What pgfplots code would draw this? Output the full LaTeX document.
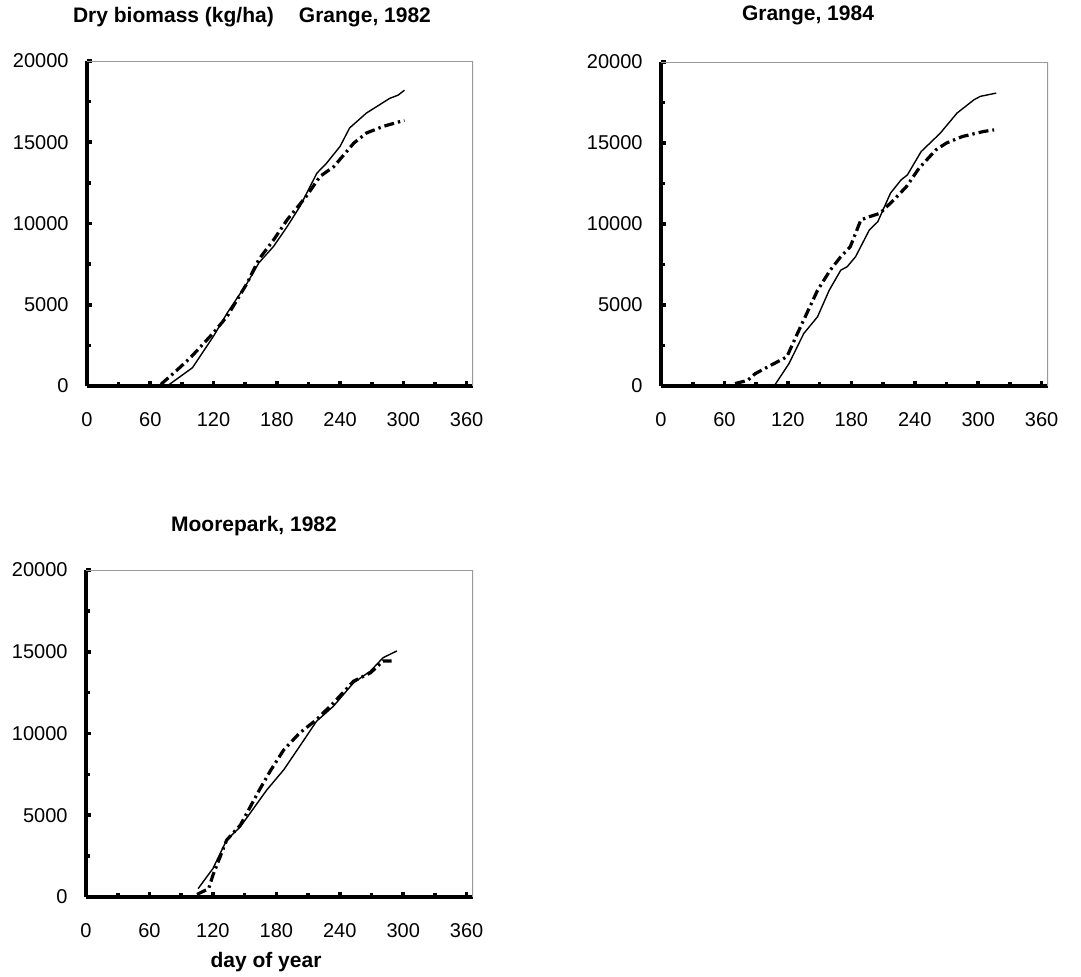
\documentclass[border=0pt]{standalone}
\usepackage{fontspec}
\setmainfont{Liberation Sans}
\usepackage{pgfplots}
\pgfplotsset{compat=1.18}
\pgfplotsset{
  myax/.style={
    scale only axis,
    xmin=0, xmax=366, ymin=0, ymax=20000,
    xtick={0,60,...,360}, ytick={0,5000,...,20000},
    minor x tick num=1, minor y tick num=1,
    axis x line=bottom, axis y line=left,
    axis line style={black, line width=2pt, -},
    tick align=inside,
    major tick length=2.5pt, minor tick length=2pt,
    tick style={black, line width=1.8pt},
    scaled y ticks=false,
    /pgf/number format/set thousands separator={},
    /pgf/number format/assume math mode=true,
    ticklabel style={font=\fontsize{10}{12}\selectfont},
    yticklabel style={anchor=east, inner sep=0pt, xshift=-9pt},
    xticklabel style={anchor=north, inner sep=0pt, yshift=-13pt},
  },
  obs/.style={black, line width=0.7pt},
  sim/.style={black, line width=1.6pt, dash pattern=on 5pt off 2pt on 1.2pt off 2pt},
}
\newcommand{\graybox}{\draw[gray!80, line width=0.7pt] (rel axis cs:0,1) -- (rel axis cs:1,1) -- (rel axis cs:1,0);}
\begin{document}
\begin{tikzpicture}
\path[use as bounding box] (0pt,0pt) rectangle (540.5pt,-488pt);

% Plot 1: Grange 1982
\begin{axis}[myax, at={(43.5pt,-193pt)}, anchor=south west, width=193pt, height=162.5pt]
\addplot[obs] coordinates {(76,0) (100,1127) (120,3070) (133,4500) (152,6350) (163,7580) (177,8600) (190,9830) (202,11060) (218,13100) (227,13700) (240,14750) (249,15880) (265,16800) (287,17700) (295,17900) (301,18200)};
\addplot[sim] coordinates {(70,100) (84,900) (98,1740) (120,3280) (133,4300) (152,6350) (163,7800) (177,9000) (190,10250) (208,11680) (221,12900) (234,13500) (253,14950) (265,15570) (281,15980) (301,16350)};
\graybox
\end{axis}

% Plot 2: Grange 1984
\begin{axis}[myax, at={(330.5pt,-193pt)}, anchor=south west, width=193.5pt, height=162pt]
\addplot[obs] coordinates {(100,0) (107,0) (121,1380) (135,3240) (148,4270) (159,5900) (170,7150) (176,7360) (184,7980) (197,9630) (205,10140) (217,11900) (227,12720) (233,13030) (246,14470) (264,15600) (280,16850) (296,17670) (302,17880) (317,18080)};
\addplot[sim] coordinates {(70,150) (82,350) (89,760) (101,1180) (119,1800) (129,3240) (148,5900) (160,7150) (170,7980) (179,8600) (189,10250) (197,10450) (207,10660) (220,11480) (232,12300) (244,13440) (260,14580) (270,15000) (285,15400) (305,15710) (315,15810)};
\graybox
\end{axis}

% Plot 3: Moorepark 1982
\begin{axis}[myax, at={(43pt,-448.5pt)}, anchor=south west, width=193.5pt, height=163.5pt]
\addplot[obs] coordinates {(106,510) (120,1740) (133,3480) (146,4300) (171,6550) (187,7780) (202,9210) (218,10750) (234,11670) (253,13100) (269,13820) (281,14640) (294,15050)};
\addplot[sim] coordinates {(105,160) (116,510) (120,1330) (133,3480) (146,4400) (164,6550) (174,7680) (187,9000) (202,10030) (218,10850) (234,11870) (253,13200) (269,13710) (281,14430) (289,14430)};
\graybox
\end{axis}

\node[font=\fontsize{10.5}{12}\selectfont\bfseries] at (126pt,-8.5pt) {Dry biomass (kg/ha)\hspace{1.2em}Grange, 1982};
\node[font=\fontsize{10.5}{12}\selectfont\bfseries] at (404pt,-7.5pt) {Grange, 1984};
\node[font=\fontsize{10.5}{12}\selectfont\bfseries] at (127pt,-263pt) {Moorepark, 1982};
\node[font=\fontsize{10.5}{12}\selectfont\bfseries] at (133pt,-481pt) {day of year};
\end{tikzpicture}
\end{document}
